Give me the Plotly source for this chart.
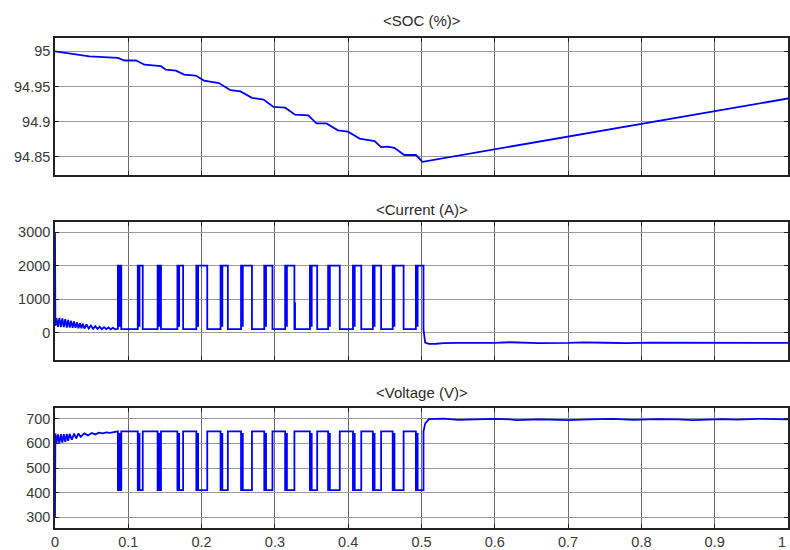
import plotly.graph_objects as go
from plotly.subplots import make_subplots

# ---------------- data ----------------
# SOC (%) staircase decline then linear recovery
soc_t = [0.0, 0.0248, 0.047, 0.0858, 0.0949, 0.1107, 0.122, 0.1446, 0.1513, 0.165,
         0.1762, 0.192, 0.2033, 0.2236, 0.2394, 0.253, 0.2687, 0.2846, 0.298, 0.314,
         0.3275, 0.3455, 0.3568, 0.3703, 0.386, 0.3997, 0.4156, 0.436, 0.4448, 0.4539,
         0.463, 0.4765, 0.4923, 0.5014, 0.6, 0.7, 0.8, 0.9, 1.0]
soc_v = [95.0, 94.9967, 94.993, 94.9907, 94.987, 94.987, 94.981, 94.979, 94.974, 94.9727,
         94.967, 94.9656, 94.9585, 94.955, 94.9448, 94.943, 94.934, 94.9316, 94.921, 94.920,
         94.910, 94.909, 94.8976, 94.8976, 94.8877, 94.8858, 94.876, 94.8725, 94.864, 94.8645,
         94.863, 94.8527, 94.8527, 94.843, 94.8606, 94.879, 94.897, 94.915, 94.933]

# pulse intervals (current high / voltage low)
pulse_on = [0.0858, 0.1129, 0.140, 0.167, 0.1928, 0.2259, 0.2538, 0.2855, 0.314, 0.3478,
            0.3726, 0.4065, 0.4336, 0.4607, 0.4923]
pulse_off = [0.0904, 0.1197, 0.1446, 0.1748, 0.2077, 0.2358, 0.2687, 0.2967, 0.3266, 0.3577,
             0.3885, 0.4178, 0.4449, 0.4756, 0.5027]

# early transient of the current (A)
cur_early_t = [0.0, 0.0005, 0.002, 0.004, 0.006, 0.008, 0.010, 0.012, 0.014, 0.016, 0.018,
               0.020, 0.022, 0.024, 0.026, 0.028, 0.030, 0.032, 0.034, 0.036, 0.038, 0.040,
               0.043, 0.046, 0.049, 0.052, 0.055, 0.058, 0.061, 0.064, 0.067, 0.070, 0.073,
               0.076, 0.079, 0.082, 0.085]
cur_early_v = [3000, 200, 430, 170, 440, 160, 420, 160, 400, 150, 380, 150, 350, 140, 330,
               140, 300, 130, 280, 130, 260, 120, 240, 120, 210, 110, 190, 110, 170, 100,
               160, 100, 150, 95, 140, 95, 110]
cur_base = 100
cur_high = 2000
cur_spike_t = [0.1197, 0.142, 0.1694, 0.1965, 0.2575, 0.316, 0.3275, 0.375, 0.462]
cur_spike_v = [700, 700, 500, 600, 1200, 1700, 900, 1900, 1900]
cur_late_t = [0.505, 0.51, 0.52, 0.53, 0.55, 0.57, 0.60, 0.62, 0.64, 0.66, 0.70, 0.72, 0.75,
              0.78, 0.81, 0.84, 0.87, 0.90, 0.93, 0.95, 0.97, 1.0]
cur_late_v = [-300, -340, -335, -315, -310, -315, -310, -290, -300, -315, -310, -295, -305,
              -315, -300, -300, -315, -295, -305, -315, -300, -310]

# voltage (V)
volt_early_t = [0.0, 0.0005, 0.002, 0.004, 0.006, 0.008, 0.010, 0.012, 0.014, 0.016, 0.018,
                0.020, 0.023, 0.026, 0.029, 0.032, 0.035, 0.040, 0.045, 0.050, 0.055, 0.060,
                0.065, 0.070, 0.075, 0.080, 0.085]
volt_early_v = [300, 640, 598, 636, 600, 637, 603, 637, 606, 638, 610, 638, 615, 639, 620,
                640, 626, 640, 632, 642, 636, 643, 640, 644, 642, 646, 647]
volt_high = 648
volt_low = 410
volt_dip_t = [0.1446, 0.1717, 0.1965, 0.2575, 0.2955]
volt_dip_v = [560, 580, 520, 500, 520]
volt_late_t = [0.505, 0.51, 0.53, 0.55, 0.58, 0.60, 0.62, 0.63, 0.66, 0.70, 0.73, 0.76, 0.79,
               0.82, 0.85, 0.87, 0.91, 0.93, 0.96, 1.0]
volt_late_v = [680, 698, 700, 695, 697, 699, 697, 694, 697, 694, 697, 699, 695, 698, 697,
               694, 698, 696, 699, 697]

x_ticks = [0, 0.1, 0.2, 0.3, 0.4, 0.5, 0.6, 0.7, 0.8, 0.9, 1]
x_ticktext = ["0", "0.1", "0.2", "0.3", "0.4", "0.5", "0.6", "0.7", "0.8", "0.9", "1"]
soc_ticks = [94.85, 94.9, 94.95, 95]
soc_ticktext = ["94.85", "94.9", "94.95", "95"]
cur_ticks = [0, 1000, 2000, 3000]
volt_ticks = [300, 400, 500, 600, 700]
titles = ["<SOC (%)>", "<Current (A)>", "<Voltage (V)>"]

# ---------------- build step traces ----------------
def build_current():
    xs = list(cur_early_t)
    ys = list(cur_early_v)
    spikes = sorted(zip(cur_spike_t, cur_spike_v))
    for on, off in zip(pulse_on, pulse_off):
        for st, sv in spikes:
            if xs[-1] < st < on:
                xs += [st, st, st]
                ys += [cur_base, sv, cur_base]
        e = 0.0012
        xs += [on, on, on + e, on + e, on + 2 * e, on + 2 * e, off, off]
        ys += [cur_base, cur_high, cur_high, cur_base + 100, cur_base + 100, cur_high,
               cur_high, cur_base]
    xs += cur_late_t
    ys += cur_late_v
    return xs, ys


def build_voltage():
    xs = list(volt_early_t)
    ys = list(volt_early_v)
    dips = sorted(zip(volt_dip_t, volt_dip_v))
    for on, off in zip(pulse_on, pulse_off):
        for dt, dv in dips:
            if xs[-1] < dt < on:
                xs += [dt, dt, dt]
                ys += [volt_high, dv, volt_high]
        e = 0.0012
        xs += [on, on, on + e, on + e, on + 2 * e, on + 2 * e, off, off]
        ys += [volt_high, volt_low, volt_low, volt_high - 10, volt_high - 10, volt_low,
               volt_low, volt_high]
    xs += volt_late_t
    ys += volt_late_v
    return xs, ys


cx, cy = build_current()
vx, vy = build_voltage()

fig = make_subplots(rows=3, cols=1)
line = dict(color="#0000ff", width=1.8)
fig.add_trace(go.Scatter(x=soc_t, y=soc_v, mode="lines", line=line, showlegend=False), 1, 1)
fig.add_trace(go.Scatter(x=cx, y=cy, mode="lines", line=line, showlegend=False), 2, 1)
fig.add_trace(go.Scatter(x=vx, y=vy, mode="lines", line=line, showlegend=False), 3, 1)

font_family = "Liberation Sans, Arial, sans-serif"
tick_font = dict(family=font_family, size=14.5, color="#3a3a3a")
common_x = dict(range=[0, 1], tickvals=x_ticks, ticktext=x_ticktext, showgrid=True,
                gridcolor="#6a6a6a", gridwidth=1.3, zeroline=False, showline=True,
                linecolor="#222222", linewidth=1.5, mirror="ticks", ticks="inside",
                ticklen=4, tickcolor="#222222", tickfont=tick_font)
common_y = dict(showgrid=True, gridcolor="#9a9a9a", gridwidth=1.2, zeroline=False,
                showline=True, linecolor="#222222", linewidth=1.5, mirror="ticks",
                ticks="inside", ticklen=4, tickcolor="#222222", tickfont=tick_font)

fig.update_layout(
    width=790, height=550,
    margin=dict(l=55, r=0, t=38, b=19),
    plot_bgcolor="white", paper_bgcolor="white",
    xaxis=dict(common_x, domain=[0, 1], showticklabels=False, anchor="y"),
    xaxis2=dict(common_x, domain=[0, 1], showticklabels=False, anchor="y2"),
    xaxis3=dict(common_x, domain=[0, 1], showticklabels=True, anchor="y3"),
    yaxis=dict(common_y, domain=[0.7207, 1.0], range=[94.8245, 95.019],
               tickvals=soc_ticks, ticktext=soc_ticktext, anchor="x"),
    yaxis2=dict(common_y, domain=[0.3434, 0.6241], range=[-813, 3297],
                tickvals=cur_ticks, anchor="x2"),
    yaxis3=dict(common_y, domain=[0.0, 0.2454], range=[257, 744],
                tickvals=volt_ticks, anchor="x3"),
)

title_y = [1.0365, 0.651, 0.276]
for txt, ty in zip(titles, title_y):
    fig.add_annotation(text=txt, x=0.5, y=ty, xref="paper", yref="paper",
                       xanchor="center", yanchor="middle", showarrow=False,
                       font=dict(family=font_family, size=15, color="#2a2a2a"))

# last x tick label sits on the right edge; keep it fully inside the picture
fig.add_annotation(text=x_ticktext[-1], x=x_ticks[-1], xref="x3", y=0, yref="paper",
                   yshift=-4, xanchor="right", yanchor="top", showarrow=False,
                   font=tick_font)

fig.write_html("out.html",
               config={"displayModeBar": False},
               post_script="document.body.style.margin='0';"
                           "document.body.style.overflow='hidden';")
